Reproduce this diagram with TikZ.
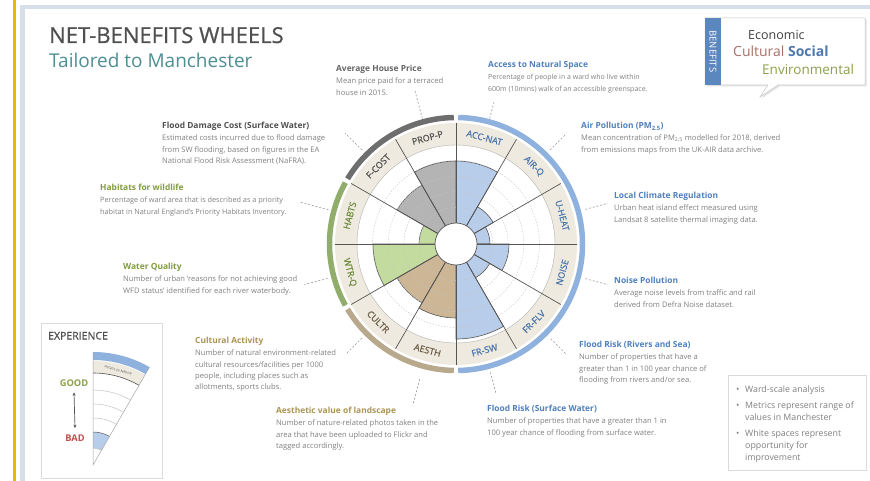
\documentclass[tikz,border=0pt]{standalone}
\usepackage{fontspec}
\setmainfont{Open Sans}
\newfontfamily\semib{Open Sans}[FakeBold=0.7]
\usetikzlibrary{arrows.meta}
\definecolor{titlegrey}{HTML}{505050}
\definecolor{teal}{HTML}{4E8F94}
\definecolor{bodygrey}{HTML}{808080}
\definecolor{hgrey}{HTML}{666666}
\definecolor{hblue}{HTML}{4F81BD}
\definecolor{hgreen}{HTML}{809C3E}
\definecolor{htan}{HTML}{AB9455}
\definecolor{ringgrey}{HTML}{6E6E6E}
\definecolor{ringgreen}{HTML}{90AD6B}
\definecolor{ringtan}{HTML}{B9A98C}
\definecolor{ringblue}{HTML}{8EB1DE}
\definecolor{wblue}{HTML}{B8CDE9}
\definecolor{wgrey}{HTML}{B4B4B4}
\definecolor{wgreen}{HTML}{C4DBA0}
\definecolor{wtan}{HTML}{CCB695}
\definecolor{beige}{HTML}{EEEADF}
\definecolor{linegrey}{HTML}{555555}
\definecolor{gridc}{HTML}{C4C4C4}
\definecolor{leadc}{HTML}{999999}
\definecolor{lblue}{HTML}{4A74AD}
\definecolor{lgrey}{HTML}{4F4F4F}
\definecolor{lgreen}{HTML}{6B8A3A}
\definecolor{ltan}{HTML}{6B5C45}
\definecolor{bandblue}{HTML}{5B87BF}
\definecolor{econ}{HTML}{404040}
\definecolor{cult}{HTML}{A8706A}
\definecolor{social}{HTML}{4E78AE}
\definecolor{env}{HTML}{8AA04A}
\definecolor{yellowline}{HTML}{F2B400}
\definecolor{framec}{HTML}{D5DEE9}
\definecolor{boxline}{HTML}{DADADA}
\definecolor{goodc}{HTML}{8AA04A}
\definecolor{badc}{HTML}{C0504D}
\tikzset{
  every node/.style={inner sep=0pt},
  headtxt/.style={anchor=base west, font=\fontsize{8.4}{10}\selectfont\bfseries},
  bodytxt/.style={anchor=base west, text=bodygrey},
  leader/.style={draw=leadc, dash pattern=on 2pt off 1.8pt, line width=0.6pt},
  ringlab/.style={font=\fontsize{9}{10}\selectfont\semib},
  wedgeline/.style={draw=linegrey, line width=0.6pt},
}
\newcommand\blurb[7]{%
  \node[headtxt, text=#4] (#1) at (#2,#3) {#5};
  \foreach \ln [count=\i] in {#6} {
    \node[bodytxt, font=\fontsize{#7}{9}\selectfont] (#1-\i) at (#2,{#3+12.3+(\i-1)*11.3}) {\ln};
  }
}
\begin{document}
\begin{tikzpicture}[x=1pt,y=-1pt]
\useasboundingbox (0,0) rectangle (870,481);
\fill[white] (0,0) rectangle (870,481);
\fill[yellowline] (13,0) rectangle (16,481);
\fill[framec] (20,5) rectangle (870,9);
\fill[framec] (20,5) rectangle (25,481);

% title
\node[anchor=base west, font=\fontsize{22}{24}\selectfont\semib, text=titlegrey] (title) at (49,43) {NET-BENEFITS WHEELS};
\node[anchor=base west, font=\fontsize{19}{22}\selectfont, text=teal] (subtitle) at (49,68) {Tailored to Manchester};

% legend bubble
\fill[gray!22] (706.5,19.5) -- (866.5,19.5) -- (866.5,86.5) -- (779.5,86.5) -- (761.5,98.5) -- (769.5,86.5) -- (706.5,86.5) -- cycle;
\filldraw[fill=white, draw=gray!45, line width=0.5pt] (705,18) -- (865,18) -- (865,85) -- (778,85) -- (760,97) -- (768,85) -- (705,85) -- cycle;
\fill[bandblue] (705,18) rectangle (721,85);
\node[rotate=-90, text=white, font=\fontsize{9.5}{10}\selectfont] (benefits) at (713,51.5) {BENEFITS};
\node[anchor=base west, font=\fontsize{12.5}{14}\selectfont, text=econ] (econ) at (748,40) {Economic};
\node[anchor=base west, font=\fontsize{14}{16}\selectfont] (cultsoc) at (733,56.7) {\textcolor{cult}{Cultural} \textcolor{social}{\bfseries Social}};
\node[anchor=base west, font=\fontsize{13.5}{15}\selectfont, text=env] (envir) at (762,75) {Environmental};

% wheel
\begin{scope}[shift={(456,244)}, x=1pt, y=1pt]
  \draw[line width=5.5pt, ringgrey] (91:126.5) arc[start angle=91, end angle=149, radius=126.5];
  \draw[line width=5.5pt, ringgreen] (151:126.5) arc[start angle=151, end angle=209, radius=126.5];
  \draw[line width=5.5pt, ringtan] (211:126.5) arc[start angle=211, end angle=269, radius=126.5];
  \draw[line width=5.5pt, ringblue] (-89:126.5) arc[start angle=-89, end angle=89, radius=126.5];
  \fill[beige, even odd rule] (0,0) circle[radius=121] (0,0) circle[radius=99];
  \foreach \a/\r/\c in {60/83/wblue, 30/43/wblue, 0/34/wblue, -30/53/wblue, -60/39/wblue, -90/95/wblue, 240/74/wtan, 210/68/wtan, 180/83/wgreen, 150/37/wgreen, 120/68/wgrey, 90/83/wgrey}
    \filldraw[fill=\c, wedgeline] (0,0) -- (\a:\r) arc[start angle=\a, end angle=\a+30, radius=\r] -- cycle;
  \foreach \r in {36.6,52.2,67.8,83.4}
    \draw[gridc, dash pattern=on 1.5pt off 1.5pt, line width=0.4pt] (0,0) circle[radius=\r];
  \draw[gray!60, line width=0.4pt] (0,0) circle[radius=99];
  \foreach \a in {0,30,...,330}
    \draw[linegrey, line width=0.7pt] (\a:21) -- (\a:121);
  \filldraw[fill=white, draw=linegrey, line width=0.7pt] (0,0) circle[radius=21];
  \foreach \a/\t/\c in {75/ACC-NAT/lblue, 45/AIR-Q/lblue, 15/U-HEAT/lblue, -15/NOISE/lblue, -45/FR-FLV/lblue, -75/FR-SW/lblue, 255/AESTH/ltan, 225/CULTR/ltan, 195/WTR-Q/lgreen, 165/HABTS/lgreen, 135/F-COST/lgrey, 105/PROP-P/lgrey} {
    \pgfmathsetmacro\rot{sin(\a) > 0 ? \a-90 : \a+90}
    \node[ringlab, text=\c, rotate=\rot] (lab\t) at (\a:110) {\t};
  }
  \foreach \a/\ri/\ro in {105/130/160, 75/130/147, 45/133/156, 15/134/157, -15/134/157, -45/134/156, -75/133/154, 255/140/167, 225/133/155, 195/133/157, 165/132/161, 135/133/157}
    \draw[leader] (\a:\ri) -- (\a:\ro);
\end{scope}

% descriptions
\blurb{hp}{336}{71.5}{hgrey}{Average House Price}{{Mean price paid for a terraced},{house in 2015.}}{7.6}
\blurb{acc}{488}{67.5}{hblue}{Access to Natural Space}{{Percentage of people in a ward who live within},{600m (10mins) walk of an accessible greenspace.}}{7.0}
\blurb{air}{581}{128.5}{hblue}{Air Pollution (PM\textsubscript{2.5})}{{Mean concentration of PM\textsubscript{2.5} modelled for 2018, derived},{from emissions maps from the UK-AIR data archive.}}{7.6}
\blurb{clim}{614}{198.5}{hblue}{Local Climate Regulation}{{Urban heat island effect measured using},{Landsat 8 satellite thermal imaging data.}}{7.6}
\blurb{noise}{614}{283.5}{hblue}{Noise Pollution}{{Average noise levels from traffic and rail},{derived from Defra Noise dataset.}}{7.6}
\blurb{frfl}{579}{347.5}{hblue}{Flood Risk (Rivers and Sea)}{{Number of properties that have a},{greater than 1 in 100 year chance of},{flooding from rivers and/or sea.}}{7.6}
\blurb{frsw}{487}{411.5}{hblue}{Flood Risk (Surface Water)}{{Number of properties that have a greater than 1 in},{100 year chance of flooding from surface water.}}{7.6}
\blurb{aes}{276}{413.5}{htan}{Aesthetic value of landscape}{{Number of nature-related photos taken in the},{area that have been uploaded to Flickr and},{tagged accordingly.}}{7.6}
\blurb{cul}{195}{343.5}{htan}{Cultural Activity}{{Number of natural environment-related},{cultural resources/facilities per 1000},{people, including places such as},{allotments, sports clubs.}}{7.6}
\blurb{wtr}{123}{269.5}{hgreen}{Water Quality}{{Number of urban `reasons for not achieving good},{WFD status' identified for each river waterbody.}}{7.6}
\blurb{hab}{100}{190.5}{hgreen}{Habitats for wildlife}{{Percentage of ward area that is described as a priority},{habitat in Natural England's Priority Habitats Inventory.}}{7.3}
\blurb{fc}{162}{128.5}{titlegrey}{Flood Damage Cost (Surface Water)}{{Estimated costs incurred due to flood damage},{from SW flooding, based on figures in the EA},{National Flood Risk Assessment (NaFRA).}}{7.6}

% experience box
\draw[boxline, fill=white, line width=0.6pt] (41,323) rectangle (162,478);
\node[anchor=base west, font=\fontsize{10.5}{12}\selectfont\semib, text=titlegrey] (exptitle) at (48,339.5) {EXPERIENCE};
\begin{scope}[shift={(93,465)}, x=1pt, y=1pt]
  \fill[ringblue] (60:105) arc[start angle=60,end angle=90,radius=105] -- (90:113) arc[start angle=90,end angle=60,radius=113] -- cycle;
  \fill[beige] (60:92) arc[start angle=60,end angle=90,radius=92] -- (90:104) arc[start angle=90,end angle=60,radius=104] -- cycle;
  \fill[wblue] (60:17) arc[start angle=60,end angle=90,radius=17] -- (90:33) arc[start angle=90,end angle=60,radius=33] -- cycle;
  \foreach \r in {47,61,75}
    \draw[gray!55, line width=0.4pt] (60:\r) arc[start angle=60,end angle=90,radius=\r];
  \draw[linegrey, line width=0.6pt] (60:92) arc[start angle=60,end angle=90,radius=92];
  \draw[linegrey, line width=0.5pt] (60:33) arc[start angle=60,end angle=90,radius=33];
  \draw[gray!60, line width=0.4pt] (60:17) arc[start angle=60,end angle=90,radius=17];
  \draw[gray!70, line width=0.5pt] (90:113) -- (0,0) -- (60:113);
  \node[rotate=-15, font=\fontsize{3.6}{4}\selectfont, text=linegrey] (accnature) at (75:98) {Access to Nature};
\end{scope}
\node[anchor=base, font=\fontsize{9.3}{10}\selectfont\bfseries, text=goodc] (good) at (74,386) {GOOD};
\node[anchor=base, font=\fontsize{9.3}{10}\selectfont\bfseries, text=badc] (bad) at (75,441) {BAD};
\draw[{Stealth[length=3.5pt,width=3pt]}-{Stealth[length=3.5pt,width=3pt]}, linegrey, line width=0.7pt] ([yshift=-6pt]good.south) -- ([yshift=6pt]bad.north);

% notes box
\draw[boxline, fill=white, line width=0.6pt] (728,375) rectangle (866,470);
\foreach \y/\b/\t [count=\i] in {392/1/Ward-scale analysis, 408/1/Metrics represent range of, 420/0/values in Manchester, 436/1/White spaces represent, 448/0/opportunity for, 460/0/improvement} {
  \node[bodytxt, font=\fontsize{8.8}{10}\selectfont] (note\i) at (745,\y) {\t};
  \ifnum\b=1 \node[bodytxt, font=\fontsize{8.8}{10}\selectfont] (bul\i) at (736,\y) {•};\fi
}
\end{tikzpicture}
\end{document}
